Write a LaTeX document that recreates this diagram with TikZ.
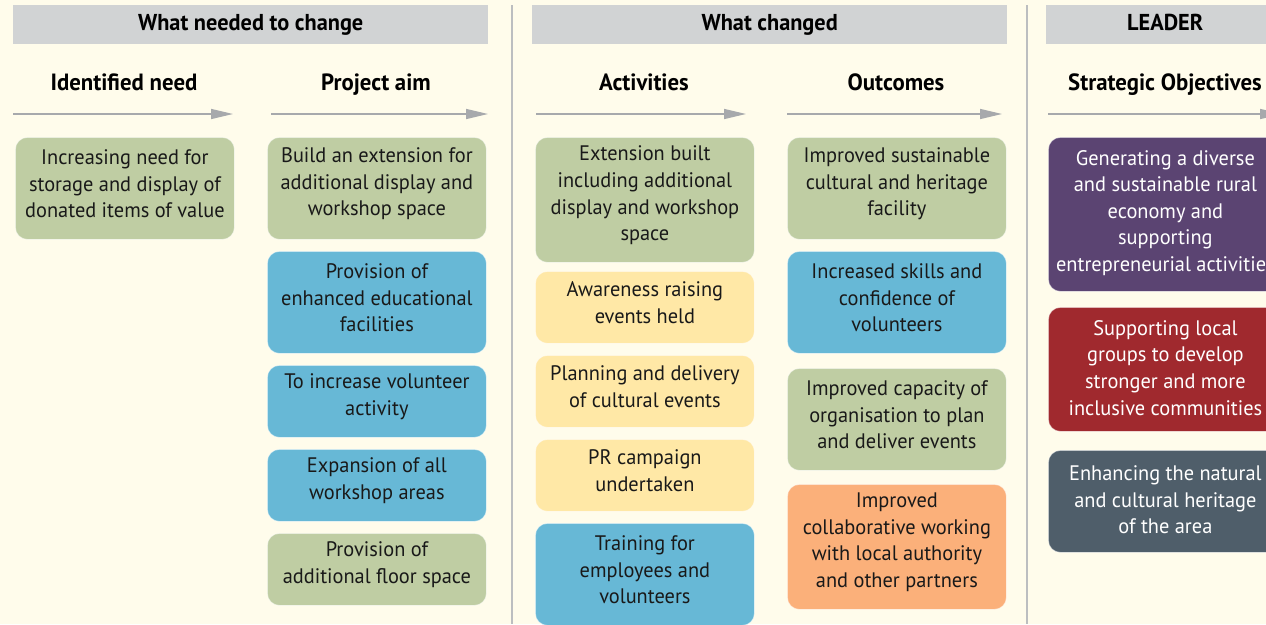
\documentclass[tikz,border=0pt]{standalone}
\usepackage{fontspec}
\setmainfont[FakeStretch=0.97]{PT Sans}
\usetikzlibrary{arrows.meta}
\definecolor{bg}{HTML}{FFFCEB}
\definecolor{hdr}{HTML}{D1D3D4}
\definecolor{sep}{HTML}{BCBEC0}
\definecolor{arr}{HTML}{A7A9AC}
\definecolor{cgreen}{HTML}{BFCDA3}
\definecolor{cblue}{HTML}{67B8D6}
\definecolor{cyellow}{HTML}{FFE8A6}
\definecolor{corange}{HTML}{FBB07A}
\definecolor{cpurple}{HTML}{5B4472}
\definecolor{cred}{HTML}{A0292E}
\definecolor{cslate}{HTML}{4F5E6A}
\tikzset{
  box/.style={rounded corners=12pt, inner sep=0pt, anchor=north west,
    minimum width=219pt, draw=white, draw opacity=0.5, line width=0.8pt},
  wbox/.style={box, minimum width=234pt},
  btext/.style={align=center, inner sep=0pt, font=\fontsize{21}{26.6}\selectfont, text=black!90},
  wtext/.style={btext, text=white},
  hbar/.style={fill=hdr, inner sep=0pt, anchor=north west, minimum height=39pt,
    text height=16pt, text depth=5pt,
    font=\bfseries\fontsize{23}{24}\selectfont},
  sub/.style={font=\bfseries\fontsize{23.5}{24}\selectfont, inner sep=0pt, anchor=base},
  flow/.style={draw=arr, line width=1.5pt, -{Triangle[length=22pt,width=10pt]}},
  seprule/.style={draw=sep, line width=1.5pt}
}
\newcommand\bx[5]{%
  \node[box, fill=#2, minimum height=#4] (#1) at #3 {};
  \node[btext] (#1t) at ([yshift=4.5pt]#1.center) {#5};}
\newcommand\wbx[5]{%
  \node[wbox, fill=#2, minimum height=#4] (#1) at #3 {};
  \node[wtext] (#1t) at ([yshift=1.5pt]#1.center) {#5};}
\begin{document}
\begin{tikzpicture}[x=1pt,y=-1pt]
\clip (0,0) rectangle (1266,624);
\fill[bg] (0,0) rectangle (1266,624);
% separators
\coordinate (s1t) at (512,5); \coordinate (s1b) at (512,624);
\coordinate (s2t) at (1027,5); \coordinate (s2b) at (1027,624);
\draw[seprule] (s1t) -- (s1b);
\draw[seprule] (s2t) -- (s2b);
% header bars
\node[hbar, minimum width=475pt] (h1) at (13,5) {What needed to change};
\node[hbar, minimum width=475pt] (h2) at (532,5) {What changed};
\node[hbar, minimum width=238pt] (h3) at (1046,5) {LEADER};
% sub headings
\node[sub] (t1) at (124,90) {Identified need};
\node[sub] (t2) at (376,90) {Project aim};
\node[sub] (t3) at (644,90) {Activities};
\node[sub] (t4) at (896,90) {Outcomes};
\node[sub] (t5) at (1165,90) {Strategic Objectives};
% arrows
\coordinate (a1s) at (13,114); \coordinate (a1e) at (233,114);
\coordinate (a2s) at (271,114); \coordinate (a2e) at (488,114);
\coordinate (a3s) at (536,114); \coordinate (a3e) at (746,114);
\coordinate (a4s) at (787,114); \coordinate (a4e) at (1002,114);
\coordinate (a5s) at (1048,114); \coordinate (a5e) at (1282,114);
\draw[flow] (a1s) -- (a1e);
\draw[flow] (a2s) -- (a2e);
\draw[flow] (a3s) -- (a3e);
\draw[flow] (a4s) -- (a4e);
\draw[flow] (a5s) -- (a5e);
% column 1
\bx{n1}{cgreen}{(15,137)}{102pt}{Increasing need for\\storage and display of\\donated items of value}
% column 2
\bx{p1}{cgreen}{(267,137)}{102pt}{Build an extension for\\additional display and\\workshop space}
\bx{p2}{cblue}{(267,251)}{102pt}{Provision of\\enhanced educational\\facilities}
\bx{p3}{cblue}{(267,365)}{72pt}{To increase volunteer\\activity}
\bx{p4}{cblue}{(267,449)}{72pt}{Expansion of all\\workshop areas}
\bx{p5}{cgreen}{(267,533)}{72pt}{Provision of\\additional floor space}
% column 3
\bx{c1}{cgreen}{(535,137)}{125pt}{Extension built\\including additional\\display and workshop\\space}
\bx{c2}{cyellow}{(535,271)}{72pt}{Awareness raising\\events held}
\bx{c3}{cyellow}{(535,355)}{72pt}{Planning and delivery\\of cultural events}
\bx{c4}{cyellow}{(535,439)}{72pt}{PR campaign\\undertaken}
\bx{c5}{cblue}{(535,523)}{102pt}{Training for\\employees and\\volunteers}
% column 4
\bx{o1}{cgreen}{(787,137)}{102pt}{Improved sustainable\\cultural and heritage\\facility}
\bx{o2}{cblue}{(787,251)}{102pt}{Increased skills and\\confidence of\\volunteers}
\bx{o3}{cgreen}{(787,368)}{102pt}{Improved capacity of\\organisation to plan\\and deliver events}
\bx{o4}{corange}{(787,484)}{125pt}{Improved\\collaborative working\\with local authority\\and other partners}
% column 5
\wbx{l1}{cpurple}{(1048,137)}{154pt}{Generating a diverse\\and sustainable rural\\economy and\\supporting\\entrepreneurial activities}
\wbx{l2}{cred}{(1048,307)}{124pt}{Supporting local\\groups to develop\\stronger and more\\inclusive communities}
\wbx{l3}{cslate}{(1048,450)}{102pt}{Enhancing the natural\\and cultural heritage\\of the area}
\end{tikzpicture}
\end{document}
